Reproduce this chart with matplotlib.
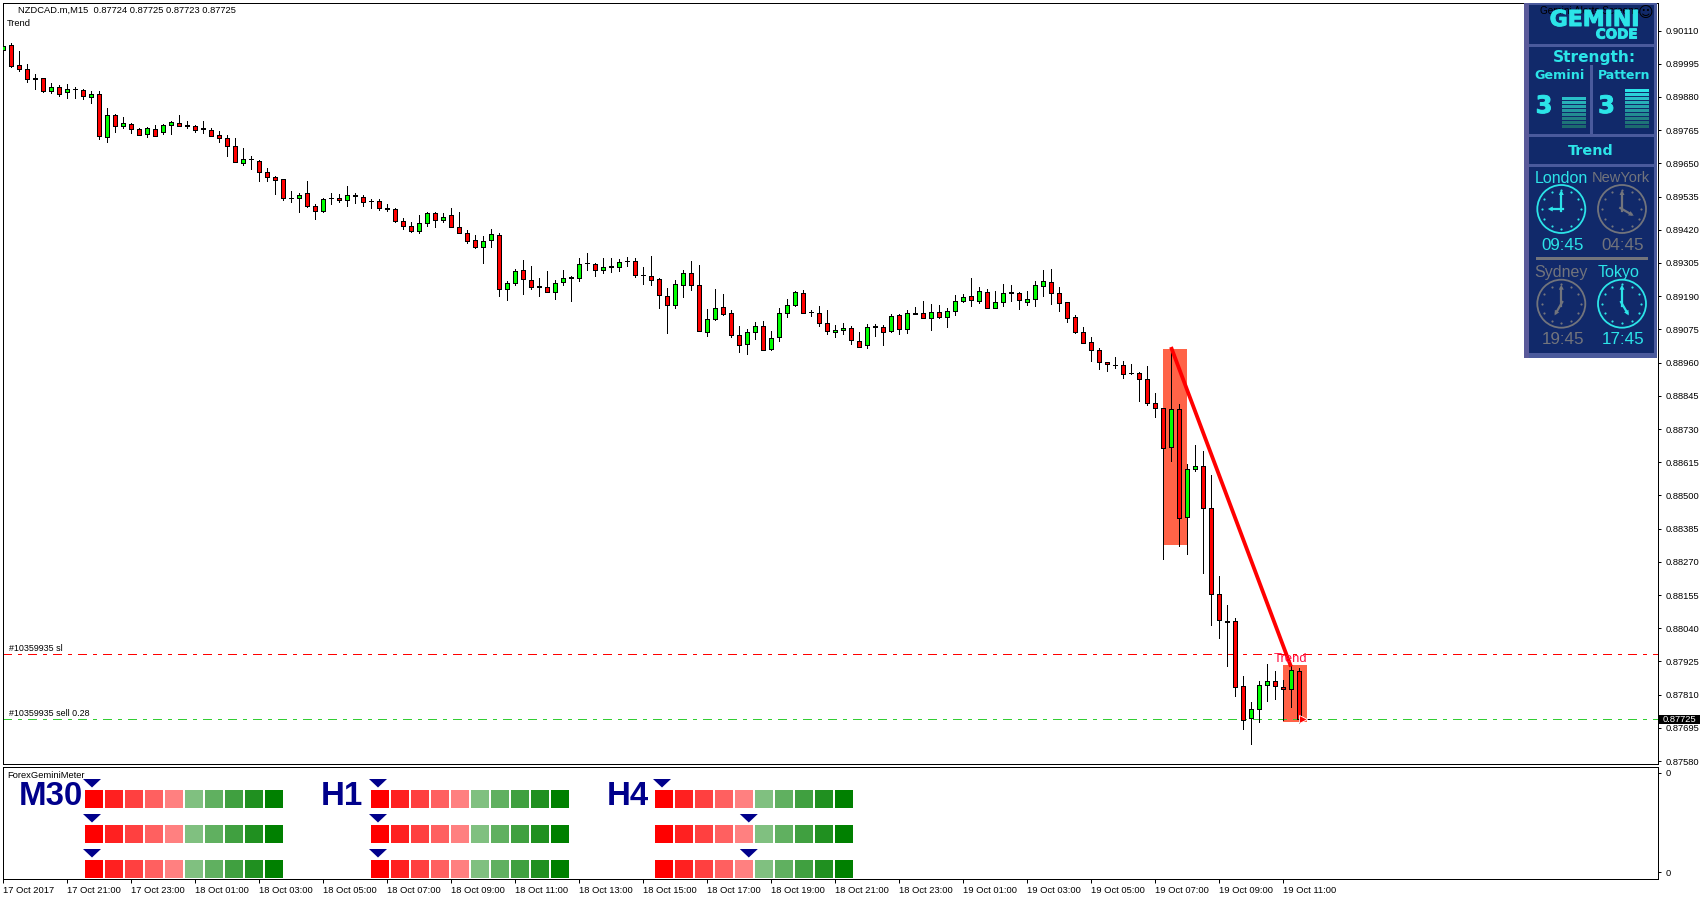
import matplotlib
matplotlib.use("Agg")
import matplotlib.pyplot as plt
import matplotlib.patheffects as pe
import numpy as np
from matplotlib.patches import Polygon, Rectangle, Circle

plt.rcParams["font.family"] = ["Liberation Sans", "DejaVu Sans"]

# candles, in 1e-5 of a price unit
opens = np.array([
    90043, 90061, 89991, 89978, 89945, 89946, 89901, 89915, 89897, 89907,
    89905, 89879, 89891, 89741, 89818, 89779, 89787, 89770, 89753, 89770,
    89758, 89784, 89791, 89784, 89780, 89771, 89766, 89749, 89739, 89711,
    89652, 89666, 89659, 89621, 89604, 89597, 89531, 89530, 89548, 89503,
    89485, 89530, 89531, 89524, 89540, 89535, 89520, 89521, 89495, 89493,
    89452, 89434, 89416, 89445, 89479, 89454, 89472, 89431, 89410, 89386,
    89360, 89386, 89403, 89215, 89237, 89282, 89247, 89225, 89223, 89204,
    89239, 89255, 89253, 89306, 89303, 89281, 89293, 89292, 89313, 89313,
    89264, 89261, 89251, 89192, 89160, 89230, 89271, 89230, 89067, 89112,
    89154, 89133, 89057, 89024, 89067, 89088, 89008, 89050, 89133, 89161,
    89202, 89135, 89132, 89098, 89066, 89074, 89081, 89036, 89022, 89087,
    89084, 89069, 89126, 89076, 89131, 89133, 89114, 89136, 89118, 89139,
    89173, 89192, 89174, 89206, 89149, 89170, 89203, 89202, 89171, 89181,
    89226, 89240, 89202, 89171, 89119, 89067, 89033, 89005, 88963, 88953,
    88953, 88925, 88925, 88904, 88821, 88804, 88669, 88801, 88427, 88590,
    88603, 88458, 88160, 88065, 88064, 87839, 87728, 87759, 87842, 87859,
    87835, 87828, 87891]) / 1e5
highs = np.array([
    90079, 90067, 90038, 89993, 89958, 89947, 89929, 89923, 89926, 89916,
    89908, 89901, 89899, 89840, 89822, 89809, 89789, 89773, 89776, 89784,
    89787, 89796, 89819, 89795, 89784, 89795, 89771, 89761, 89749, 89739,
    89704, 89674, 89660, 89635, 89607, 89597, 89555, 89548, 89588, 89510,
    89530, 89548, 89545, 89570, 89548, 89541, 89528, 89525, 89508, 89497,
    89460, 89448, 89470, 89480, 89483, 89477, 89494, 89480, 89420, 89403,
    89397, 89424, 89410, 89241, 89285, 89316, 89296, 89254, 89278, 89247,
    89282, 89259, 89321, 89338, 89306, 89321, 89321, 89320, 89324, 89321,
    89290, 89328, 89252, 89217, 89247, 89282, 89313, 89299, 89144, 89216,
    89199, 89143, 89086, 89076, 89101, 89103, 89068, 89150, 89179, 89207,
    89212, 89143, 89157, 89143, 89091, 89098, 89088, 89067, 89093, 89095,
    89089, 89127, 89127, 89143, 89151, 89172, 89164, 89158, 89150, 89193,
    89199, 89252, 89221, 89214, 89207, 89231, 89228, 89206, 89209, 89244,
    89279, 89283, 89223, 89171, 89126, 89084, 89050, 89012, 88963, 88981,
    88967, 88956, 88927, 88949, 88854, 88804, 89008, 88818, 88610, 88674,
    88653, 88570, 88220, 88120, 88074, 87874, 87784, 87856, 87916, 87892,
    87860, 87909, 87902]) / 1e5
lows = np.array([
    90035, 89983, 89969, 89931, 89906, 89897, 89893, 89883, 89878, 89875,
    89873, 89858, 89736, 89723, 89757, 89771, 89754, 89748, 89740, 89743,
    89753, 89753, 89778, 89771, 89757, 89756, 89745, 89723, 89674, 89654,
    89644, 89630, 89589, 89589, 89544, 89523, 89516, 89481, 89499, 89457,
    89482, 89508, 89515, 89501, 89512, 89501, 89495, 89487, 89484, 89446,
    89422, 89411, 89408, 89432, 89428, 89446, 89428, 89408, 89373, 89356,
    89304, 89359, 89190, 89176, 89229, 89196, 89215, 89189, 89203, 89179,
    89228, 89172, 89241, 89279, 89259, 89270, 89274, 89277, 89293, 89256,
    89232, 89229, 89148, 89063, 89148, 89186, 89210, 89069, 89051, 89106,
    89124, 89049, 88997, 88989, 89042, 89004, 89005, 89035, 89118, 89156,
    89132, 89121, 89086, 89059, 89049, 89059, 89024, 89014, 89009, 89051,
    89020, 89066, 89058, 89062, 89128, 89114, 89072, 89114, 89082, 89125,
    89170, 89156, 89166, 89148, 89148, 89156, 89173, 89146, 89159, 89156,
    89191, 89163, 89139, 89101, 89062, 89028, 88966, 88938, 88931, 88941,
    88907, 88922, 88827, 88813, 88772, 88280, 88620, 88325, 88298, 88585,
    88232, 88052, 88007, 87909, 87805, 87692, 87639, 87715, 87789, 87795,
    87722, 87767, 87713]) / 1e5
closes = np.array([
    90058, 89987, 89976, 89942, 89943, 89900, 89915, 89890, 89908, 89906,
    89883, 89891, 89743, 89818, 89779, 89791, 89769, 89749, 89773, 89745,
    89784, 89794, 89779, 89779, 89765, 89770, 89746, 89738, 89710, 89656,
    89666, 89665, 89621, 89604, 89592, 89530, 89530, 89540, 89502, 89486,
    89528, 89529, 89524, 89541, 89538, 89516, 89518, 89495, 89493, 89452,
    89433, 89416, 89445, 89479, 89454, 89465, 89430, 89409, 89381, 89359,
    89382, 89407, 89215, 89237, 89278, 89249, 89222, 89223, 89204, 89237,
    89254, 89254, 89303, 89304, 89281, 89292, 89292, 89309, 89312, 89263,
    89262, 89246, 89195, 89160, 89233, 89271, 89229, 89070, 89112, 89150,
    89128, 89056, 89022, 89067, 89088, 89005, 89046, 89133, 89161, 89206,
    89133, 89134, 89098, 89071, 89074, 89081, 89040, 89015, 89084, 89085,
    89066, 89122, 89076, 89133, 89129, 89114, 89136, 89118, 89140, 89174,
    89188, 89177, 89208, 89149, 89171, 89202, 89202, 89177, 89181, 89230,
    89244, 89202, 89167, 89116, 89066, 89029, 89005, 88962, 88956, 88952,
    88922, 88924, 88904, 88821, 88804, 88666, 88801, 88423, 88593, 88603,
    88458, 88159, 88067, 88063, 87835, 87723, 87759, 87842, 87859, 87839,
    87828, 87894, 87725]) / 1e5

price_ticks = [0.90110, 0.89995, 0.89880, 0.89765, 0.89650, 0.89535, 0.89420, 0.89305,
               0.89190, 0.89075, 0.88960, 0.88845, 0.88730, 0.88615, 0.88500, 0.88385,
               0.88270, 0.88155, 0.88040, 0.87925, 0.87810, 0.87695, 0.87580]
time_labels = ["17 Oct 2017", "17 Oct 21:00", "17 Oct 23:00", "18 Oct 01:00", "18 Oct 03:00",
               "18 Oct 05:00", "18 Oct 07:00", "18 Oct 09:00", "18 Oct 11:00", "18 Oct 13:00",
               "18 Oct 15:00", "18 Oct 17:00", "18 Oct 19:00", "18 Oct 21:00", "18 Oct 23:00",
               "19 Oct 01:00", "19 Oct 03:00", "19 Oct 05:00", "19 Oct 07:00", "19 Oct 09:00",
               "19 Oct 11:00"]

last_price = 0.87725
stop_price = 0.87950
zone_starts = [145, 160]
zone_tops = [0.89006, 0.87912]
zone_bottoms = [0.88329, 0.87715]
trend_bars = [146, 161]
trend_prices = [0.89014, 0.87907]

meter_names = ["M30", "H1", "H4"]
meter_pointers = [[-0.1, -0.1, -0.1], [-0.1, -0.1, -0.1], [-0.1, 4.24, 4.24]]
meter_colors = ["#ff0000", "#ff2020", "#ff4040", "#ff6060", "#ff8080",
                "#80c080", "#60b060", "#40a040", "#209020", "#008000"]

clock_names = ["London", "NewYork", "Sydney", "Tokyo"]
clock_times = ["09:45", "04:45", "19:45", "17:45"]
clock_hours = [9, 4, 7, 5]
clock_active = [True, False, False, True]

PX = 0.72  # one pixel in points at dpi 100
W, H = 1700, 900
CYAN = "#2ce4e8"
GREY = "#72747c"
NAVY = "#00008b"
TXT = 9.4 * PX

fig = plt.figure(figsize=(W / 100, H / 100), dpi=100, facecolor="white")


def px_axes(left, top, right, bottom):
    return fig.add_axes([left / W, 1 - bottom / H, (right - left) / W, (bottom - top) / H])


ax = px_axes(2.5, 2.5, 1658, 764)
sub = px_axes(2.5, 767, 1658, 879)
ov = fig.add_axes([0, 0, 1, 1], zorder=10)
ov.set_xlim(0, W)
ov.set_ylim(H, 0)
ov.axis("off")

# main window
x = np.arange(len(opens))
up = closes >= opens
ax.vlines(x, lows, highs, color="black", lw=PX, antialiased=False, zorder=3)
ax.bar(x[up], (closes - opens)[up], 0.5, bottom=opens[up], color="#00ff00", edgecolor="black",
       lw=PX, antialiased=False, zorder=4)
ax.bar(x[~up], (closes - opens)[~up], 0.5, bottom=opens[~up], color="#ff0000", edgecolor="black",
       lw=PX, antialiased=False, zorder=4)

for start, top, bottom in zip(zone_starts, zone_tops, zone_bottoms):
    ax.add_patch(Rectangle((start, bottom), 3, top - bottom, color="#ff6347", lw=0, zorder=1))
ax.plot(trend_bars, trend_prices, color="#ff0000", lw=3.8 * PX, solid_capstyle="butt", zorder=5)
ax.text(161.0, 0.87933, "Trend", color="#ff1040", fontsize=13 * PX, ha="center", va="center", zorder=6)

ax.axhline(stop_price, color="#ff0000", lw=PX, ls=(0, (9, 6, 3, 6)), antialiased=False, zorder=2)
ax.axhline(last_price, color="#32cd32", lw=PX, ls=(0, (9, 6, 3, 6)), antialiased=False, zorder=2)
ax.plot([162.5], [last_price], marker=">", ms=6, color="#ff0000", mec="white", mew=0.6, zorder=6)
ax.hlines(last_price, 162.9, 163.4, color="black", lw=PX, zorder=5)

ax.set_xlim(-0.0625, 206.875)
ax.set_ylim(0.87570, 0.90207)
ax.set_xticks([])
ax.yaxis.tick_right()
ax.set_yticks(price_ticks, [f"{p:.5f}" for p in price_ticks])
ax.tick_params(axis="y", length=3 * PX, width=PX, pad=3, labelsize=TXT)

# indicator window
sub.set_xlim(ax.get_xlim())
sub.set_ylim(0, 1)
sub.yaxis.tick_right()
sub.set_yticks([0.06, 0.95], ["0", "0"])
sub.tick_params(axis="y", length=3 * PX, width=PX, pad=3, labelsize=TXT)
sub.set_xticks(np.arange(len(time_labels)) * 8, time_labels, ha="left")
sub.tick_params(axis="x", length=4 * PX, width=PX, pad=2, labelsize=TXT)

for a in (ax, sub):
    for s in a.spines.values():
        s.set_linewidth(PX)

# chart captions
ov.text(18, 10.5, "NZDCAD.m,M15  0.87724 0.87725 0.87723 0.87725", fontsize=TXT, va="center")
ov.text(7, 23.5, "Trend", fontsize=TXT, va="center")
ov.text(9, 648.5, "#10359935 sl", fontsize=TXT * 0.95, va="center")
ov.text(9, 713.5, "#10359935 sell 0.28", fontsize=TXT * 0.95, va="center")
ov.text(7, 775.5, "ForexGeminiMeter", fontsize=TXT, va="center")

# last price tag
ov.add_patch(Rectangle((1659.5, 715), 40.5, 9, color="black", lw=0))
ov.text(1663, 719.5, "0.87725", color="white", fontsize=TXT, va="center")

# meter
meter_lefts = [85, 371, 655]
label_lefts = [18.5, 320.5, 606.5]
row_tops = [790, 825, 860]
for name, left, lab_x, pointers in zip(meter_names, meter_lefts, label_lefts, meter_pointers):
    ov.text(lab_x, 796.5, name, color=NAVY, fontsize=33 * PX, fontweight="bold", va="center")
    for row_top, pointer in zip(row_tops, pointers):
        for i, c in enumerate(meter_colors):
            ov.add_patch(Rectangle((left + 20 * i, row_top), 18, 18, color=c, lw=0))
        cx = left + 9 + 20 * pointer
        ov.add_patch(Polygon([(cx - 9, row_top - 11), (cx + 9, row_top - 11), (cx, row_top - 2.5)],
                             color=NAVY, lw=0))

# gemini panel
PANEL = "#11296a"
EDGE = "#4a5a9c"
ov.add_patch(Rectangle((1524, 3), 133, 355, color=EDGE, lw=0))
ov.add_patch(Rectangle((1524, 3), 5, 355, color="#5a5a9a", lw=0))
for l, t, r, b in [(1529, 5, 1654, 44), (1529, 47, 1654, 65), (1529, 65, 1590, 134),
                   (1593, 65, 1654, 134), (1529, 137, 1654, 164), (1529, 167, 1654, 353)]:
    ov.add_patch(Rectangle((l, t), r - l, b - t, color=PANEL, lw=0))

BOLD = dict(family="DejaVu Sans", fontweight="bold", ha="center", va="center", color=CYAN)
FAT = [pe.withStroke(linewidth=0.7, foreground=CYAN)]
ov.text(1589, 11.5, "Gemini Alerts Screens", color="black", fontsize=10 * PX, ha="center", va="center")
ov.text(1646, 12, "\u263a", color="black", family="DejaVu Sans", fontsize=15 * PX, ha="center", va="center")
ov.text(1594.5, 20, "GEMINI", fontsize=22 * PX, path_effects=FAT, **BOLD)
ov.text(1637.5, 34.5, "CODE", fontsize=13.5 * PX, family="DejaVu Sans", fontweight="bold",
        ha="right", va="center", color=CYAN, path_effects=FAT)
ov.text(1594.5, 57.5, "Strength:", fontsize=15.4 * PX, **BOLD)
ov.text(1560, 75.5, "Gemini", fontsize=12.7 * PX, **BOLD)
ov.text(1624, 75.5, "Pattern", fontsize=12.5 * PX, **BOLD)
ov.text(1544, 106, "3", fontsize=24 * PX, path_effects=FAT, **BOLD)
ov.text(1606.5, 106, "3", fontsize=24 * PX, path_effects=FAT, **BOLD)
ov.text(1591, 151, "Trend", fontsize=14.4 * PX, **BOLD)

strength_rows = [8, 10]
bar_shades = ["#1c6a6e", "#1e7478", "#208084", "#228c92", "#2498a0", "#26a4ac",
              "#28b0b8", "#2ac0c8", "#2bd0d8", "#2ce4e8"]
for left, rows in zip([1562, 1625], strength_rows):
    for i in range(rows):
        ov.add_patch(Rectangle((left, 125 - 4 * i), 24.5, 3, color=bar_shades[i], lw=0))

name_xy = [(1561.3, 178.5), (1621, 178.5), (1560.7, 272.5), (1619, 272.5)]
clock_xy = [(1561.3, 209), (1622, 209), (1561.3, 303.7), (1622, 303.7)]
time_xy = [(1562.3, 245.5), (1622.3, 245.5), (1563, 340), (1622.7, 340)]


def draw_clock(cx, cy, hour, color):
    ov.add_patch(Circle((cx, cy), 24, fill=False, ec=color, lw=1.3))
    marks = np.radians(np.arange(12) * 30)
    ov.scatter(cx + 19.5 * np.sin(marks), cy - 19.5 * np.cos(marks), s=2.5, color=color, lw=0)
    for angle, length in [(0, 19), (np.radians(hour * 30), 13.5)]:
        sx, sy = np.sin(angle), -np.cos(angle)
        ox, oy = -sy, sx
        ov.plot([cx - 2 * sx, cx + (length - 3) * sx], [cy - 2 * sy, cy + (length - 3) * sy],
                color=color, lw=1.6)
        tip = (cx + length * sx, cy + length * sy)
        base = (cx + (length - 5) * sx, cy + (length - 5) * sy)
        ov.add_patch(Polygon([tip, (base[0] + 2.5 * ox, base[1] + 2.5 * oy),
                              (base[0] - 2.5 * ox, base[1] - 2.5 * oy)], color=color, lw=0))


for i, name in enumerate(clock_names):
    col = CYAN if clock_active[i] else GREY
    size = 16 * PX if name != "NewYork" else 14.6 * PX
    ov.text(*name_xy[i], name, color=col, fontsize=size, ha="center", va="center")
    draw_clock(*clock_xy[i], clock_hours[i], col)
    ov.text(*time_xy[i], clock_times[i], color=col, fontsize=17 * PX, ha="center", va="center")
ov.add_patch(Rectangle((1536.5, 257), 111.5, 2.5, color=GREY, lw=0))

fig.savefig("out.png", dpi=100)
